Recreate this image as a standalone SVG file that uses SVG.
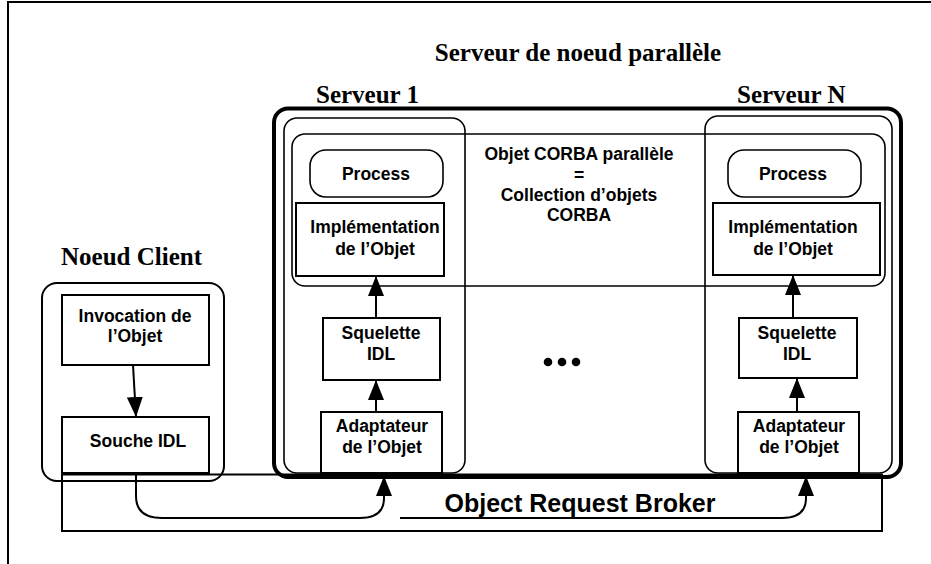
<svg xmlns="http://www.w3.org/2000/svg" width="931" height="564" viewBox="0 0 931 564">
<style>
.tt{font-family:"Liberation Serif","Times New Roman",serif;font-weight:bold;font-size:25px;fill:#000}
.b{font-family:"Liberation Sans",Arial,sans-serif;font-weight:bold;font-size:17.5px;fill:#000;text-anchor:middle}
.orb{font-family:"Liberation Sans",Arial,sans-serif;font-weight:bold;font-size:25px;fill:#000;text-anchor:middle}
.box{fill:#fff;stroke:#000;stroke-width:2}
.rr{fill:none;stroke:#000;stroke-width:1.6}
.ln{fill:none;stroke:#000;stroke-width:2}
</style>
<defs>
<marker id="ah" markerUnits="userSpaceOnUse" markerWidth="20" markerHeight="16" refX="20" refY="8" orient="auto">
<path d="M0,0 L20,8 L0,16 z" fill="#000"/>
</marker>
</defs>
<rect width="931" height="564" fill="#fff"/>
<path d="M8,564 V2 H931" fill="none" stroke="#000" stroke-width="2"/>

<g id="orb">
<rect class="ln" x="62" y="474.5" width="820" height="56.5"/>
<text class="orb" x="580" y="512">Object Request Broker</text>
</g>

<g id="serveur-noeud-parallele">
<rect x="274" y="108.5" width="627" height="368.5" rx="14" fill="none" stroke="#000" stroke-width="4"/>
<text class="tt" x="578" y="61" text-anchor="middle">Serveur de noeud parallèle</text>
</g>

<g id="serveur1">
<rect class="rr" x="284" y="118" width="181" height="355" rx="13"/>
<text class="tt" x="316" y="103">Serveur 1</text>
</g>

<g id="serveurN">
<rect class="rr" x="705" y="116" width="187" height="357" rx="13"/>
<text class="tt" x="737" y="103">Serveur N</text>
</g>

<g id="objet-corba-parallele">
<rect class="rr" x="292" y="134" width="593" height="152" rx="13"/>
<text class="b" x="579" y="160">Objet CORBA parallèle</text>
<text class="b" x="579" y="181">=</text>
<text class="b" x="579" y="201">Collection d’objets</text>
<text class="b" x="579" y="221">CORBA</text>
</g>

<g id="process1">
<rect class="rr" x="310" y="150" width="133" height="47" rx="16"/>
<text class="b" x="376" y="180">Process</text>
</g>
<g id="impl1">
<rect class="box" x="296" y="203" width="148" height="73"/>
<text class="b" x="375" y="233">Implémentation</text>
<text class="b" x="375" y="255">de l’Objet</text>
</g>
<g id="squel1">
<rect class="box" x="323" y="318" width="117" height="62"/>
<text class="b" x="381" y="339">Squelette</text>
<text class="b" x="381" y="360">IDL</text>
</g>
<g id="adapt1">
<rect class="box" x="321" y="412" width="121" height="61"/>
<text class="b" x="382" y="432">Adaptateur</text>
<text class="b" x="382" y="453">de l’Objet</text>
</g>

<g id="processN">
<rect class="rr" x="728" y="150" width="133" height="47" rx="16"/>
<text class="b" x="793" y="180">Process</text>
</g>
<g id="implN">
<rect class="box" x="713" y="203" width="167" height="72"/>
<text class="b" x="793" y="233">Implémentation</text>
<text class="b" x="793" y="255">de l’Objet</text>
</g>
<g id="squelN">
<rect class="box" x="739" y="318" width="118" height="60"/>
<text class="b" x="797" y="339">Squelette</text>
<text class="b" x="797" y="360">IDL</text>
</g>
<g id="adaptN">
<rect class="box" x="738" y="412" width="121" height="61"/>
<text class="b" x="799" y="432">Adaptateur</text>
<text class="b" x="799" y="453">de l’Objet</text>
</g>

<g id="dots">
<circle cx="548" cy="362" r="4.3" fill="#000"/>
<circle cx="562" cy="362" r="4.3" fill="#000"/>
<circle cx="576" cy="362" r="4.3" fill="#000"/>
</g>

<g id="noeud-client">
<rect class="ln" x="42" y="283" width="182" height="198" rx="15"/>
<text class="tt" x="61" y="265">Noeud Client</text>
</g>
<g id="invocation">
<rect class="box" x="62" y="295" width="147" height="70"/>
<text class="b" x="135" y="322">Invocation de</text>
<text class="b" x="135" y="342">l’Objet</text>
</g>
<g id="souche">
<rect class="box" x="62" y="417" width="147" height="56"/>
<text class="b" x="138" y="447">Souche IDL</text>
</g>

<g id="connectors">
<line class="ln" x1="133" y1="365" x2="136" y2="417" marker-end="url(#ah)"/>
<line class="ln" x1="376" y1="318" x2="376" y2="276" marker-end="url(#ah)"/>
<line class="ln" x1="376" y1="412" x2="376" y2="380" marker-end="url(#ah)"/>
<line class="ln" x1="793" y1="318" x2="793" y2="275" marker-end="url(#ah)"/>
<line class="ln" x1="797" y1="412" x2="797" y2="378" marker-end="url(#ah)"/>
<path class="ln" d="M136,474 V496 Q136,518 162,518 H360 Q384,518 384,498 V476" marker-end="url(#ah)"/>
<path class="ln" d="M400,518 H782 Q806,518 806,498 V476" marker-end="url(#ah)"/>
</g>
</svg>
